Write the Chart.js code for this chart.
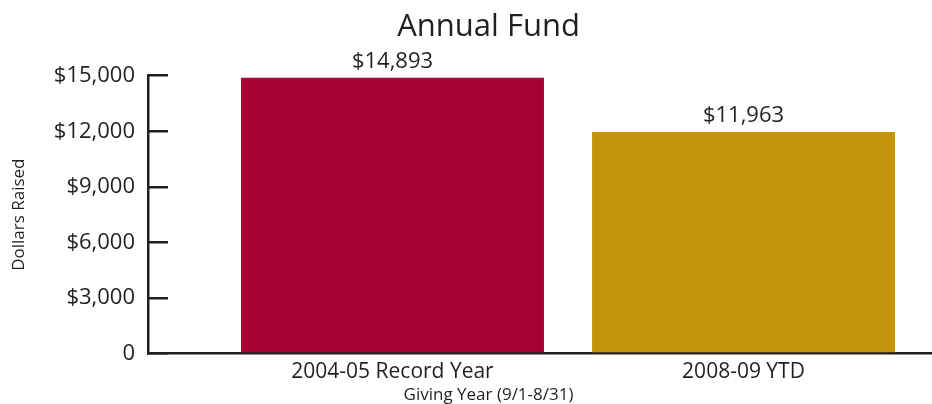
<!DOCTYPE html>
<html>
<head>
<meta charset="utf-8">
<script src="https://cdn.jsdelivr.net/npm/chart.js@4"></script>
<style>
  html, body { margin: 0; padding: 0; background: #fff; }
  #wrap { width: 932px; height: 404px; position: relative; }
</style>
</head>
<body>
<div id="wrap"><canvas id="fundChart"></canvas></div>
<script>
const categories = ['2004-05 Record Year', '2008-09 YTD'];
const dollarsRaised = [14893, 11963];
const barColors = ['#a90034', '#c4950a'];
const yTickValues = [0, 3000, 6000, 9000, 12000, 15000];
const yTickLabels = ['0', '$3,000', '$6,000', '$9,000', '$12,000', '$15,000'];

const ink = '#231f20';
const family = "'Open Sans', 'Noto Sans', sans-serif";

// value labels above each bar
const barValueLabels = {
    id: 'barValueLabels',
    afterDatasetsDraw(chart) {
        let ctx = chart.ctx;
        ctx.save();
        ctx.font = '22px ' + family;
        ctx.fillStyle = ink;
        ctx.textAlign = 'center';
        ctx.textBaseline = 'alphabetic';
        chart.getDatasetMeta(0).data.forEach((bar, i) => {
            ctx.fillText('$' + dollarsRaised[i].toLocaleString('en-US'), bar.x, bar.y - 10);
        });
        ctx.restore();
    }
};

let ctx = document.getElementById('fundChart').getContext('2d');
new Chart(ctx, {
    type: 'bar',
    data: {
        datasets: [{
            label: 'Dollars Raised',
            data: dollarsRaised.map((v, i) => ({ x: i, y: v })),
            backgroundColor: barColors,
            borderWidth: 0,
            categoryPercentage: 1,
            barPercentage: 0.863
        }]
    },
    options: {
        responsive: true,
        maintainAspectRatio: false,
        animation: false,
        layout: { padding: { left: 45, right: 0, top: 0, bottom: 0 } },
        plugins: {
            legend: { display: false },
            tooltip: { enabled: false },
            title: {
                display: true,
                text: 'Annual Fund',
                color: ink,
                font: { family: family, size: 31, weight: 'normal' },
                padding: { top: 9, bottom: 29.5 }
            },
            subtitle: {
                display: true,
                position: 'bottom',
                text: 'Giving Year (9/1-8/31)',
                color: ink,
                font: { family: family, size: 17, weight: 'normal' },
                padding: { top: 0, bottom: -1 }
            }
        },
        scales: {
            x: {
                type: 'linear',
                offset: false,
                bounds: 'data',
                min: -0.6966,
                max: 1.537,
                afterBuildTicks: scale => {
                    scale.ticks = categories.map((c, i) => ({ value: i }));
                },
                afterFit: scale => { scale.height = 31; },
                ticks: {
                    color: ink,
                    font: { family: family, size: 21 },
                    padding: 6,
                    maxRotation: 0,
                    callback: (v) => categories[v]
                },
                grid: { display: false, drawTicks: false },
                border: { display: true, color: ink, width: 2.5 }
            },
            y: {
                min: 0,
                max: 15000,
                afterBuildTicks: scale => {
                    scale.ticks = yTickValues.map(v => ({ value: v }));
                },
                afterFit: scale => { scale.width = 103; },
                ticks: {
                    color: ink,
                    font: { family: family, size: 22 },
                    padding: 33,
                    callback: (v, i) => yTickLabels[i]
                },
                grid: {
                    display: true,
                    drawOnChartArea: false,
                    drawTicks: true,
                    tickLength: -20,
                    color: ink,
                    lineWidth: 2.5
                },
                border: { display: true, color: ink, width: 2.5 },
                title: {
                    display: true,
                    text: 'Dollars Raised',
                    color: ink,
                    font: { family: family, size: 17, weight: 'normal' },
                    padding: { top: -36, bottom: 0 }
                }
            }
        }
    },
    plugins: [barValueLabels]
});
</script>
</body>
</html>
